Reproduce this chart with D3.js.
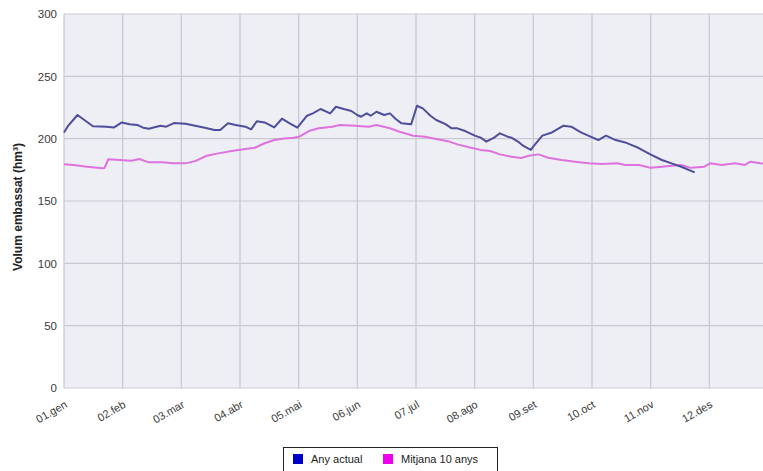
<!DOCTYPE html>
<html>
<head>
<meta charset="utf-8">
<script src="https://cdn.jsdelivr.net/npm/d3@7"></script>
<style>
  html, body { margin: 0; padding: 0; background: #ffffff; }
  svg { display: block; font-family: "Liberation Sans", Arial, sans-serif; }
</style>
</head>
<body>
<svg id="chart" width="763" height="471"></svg>
<script>
// ---------- DATA ----------
const monthLabels = ["01.gen","02.feb","03.mar","04.abr","05.mai","06.jun","07.jul","08.ago","09.set","10.oct","11.nov","12.des"];
const yTicks = [0, 50, 100, 150, 200, 250, 300];

// Any actual (day of year, hm³)
const actualDay = [0,2,7,15,22,26,30,34,38,41,44,50,53,57,63,68,73,78,81,85,89,94,97,100,104,109,113,117,121,126,129,133,138,141,145,149,152,154,157,159,162,166,169,172,175,180,183,186,190,193,198,201,204,208,213,216,219,223,226,230,232,236,238,242,244,248,253,259,263,268,273,277,281,286,291,295,298,304,310,315,320,327];
const actualVol = [205,210,219,210,209.5,209,213,211.5,211,208.8,208,210.4,209.6,212.5,212,210.4,208.8,207,207,212.3,211,209.6,207.5,214,213,209,216,212.3,208.8,218.4,220.3,223.8,220.3,225.6,223.8,222.2,219,217.6,220.3,218.4,221.6,219,220.3,215.8,212.3,211.5,226.4,224.3,218.4,215,211.5,208.3,208.3,206.1,202.4,200.8,197.6,200.8,204.3,201.6,200.8,197,194.4,191,195,202.4,205,210.4,209.6,205,201.6,198.9,202.4,198.9,197,194.4,192.5,187.4,182.9,180.2,177.5,173];

// Mitjana 10 anys (day of year, hm³)
const mitjanaDay = [0,5,12,20,21,23,29,35,39,44,51,57,63,68,74,80,87,94,99,104,109,114,119,122,127,132,139,143,151,158,162,169,174,179,181,187,193,199,204,211,216,221,226,232,237,241,246,251,258,265,272,279,287,291,298,304,310,315,320,325,332,335,341,348,353,356,361,365];
const mitjanaVol = [179.5,178.9,177.5,176.2,176.5,183.5,182.9,182.3,183.7,181,181,180.2,180.2,182,186.3,188.2,190.1,191.7,192.7,196.3,198.9,200.2,200.8,201.6,206.1,208.3,209.6,211,210.4,209.6,211,208.3,205.6,203.4,202.4,201.6,199.7,198,195.4,192.7,191,190.1,187.4,185.5,184.5,186.3,187.4,184.7,182.9,181.5,180.2,179.7,180.2,178.9,178.9,176.6,177.5,178.3,178.9,176.6,177.5,180.2,178.9,180.2,178.9,181.5,180.2,180];

const legendNames = ["Any actual", "Mitjana 10 anys"];

// ---------- LAYOUT ----------
const svg = d3.select("#chart");
const mLeft = 64, mRight = 768, mTop = 14, mBottom = 388;
const monthLen = 365 / 12;

const x = d3.scaleLinear().domain([0, 365]).range([mLeft, mRight]);
const y = d3.scaleLinear().domain([0, 300]).range([mBottom, mTop]);

// plot background
svg.append("rect")
  .attr("x", mLeft).attr("y", mTop)
  .attr("width", mRight - mLeft).attr("height", mBottom - mTop)
  .attr("fill", "#eeeef5");

const monthTicks = monthLabels.map((d, i) => i * monthLen);

// grid
const grid = svg.append("g");
grid.selectAll("line.h").data(yTicks).join("line")
  .attr("x1", mLeft).attr("x2", mRight)
  .attr("y1", d => y(d)).attr("y2", d => y(d))
  .attr("stroke", "#c9c9d3").attr("stroke-width", 1.2);
grid.selectAll("line.v").data(monthTicks).join("line")
  .attr("y1", mTop).attr("y2", mBottom)
  .attr("x1", d => x(d)).attr("x2", d => x(d))
  .attr("stroke", "#c6c6d6").attr("stroke-width", 1.2);

// y axis labels
const yAxis = d3.axisLeft(y).tickValues(yTicks).tickSize(0).tickPadding(7);
svg.append("g").attr("transform", `translate(${mLeft},0)`).call(yAxis)
  .call(g => g.select(".domain").remove())
  .call(g => g.selectAll("text").attr("font-size", 11.5).attr("fill", "#3a3a3a").attr("font-family", "Liberation Sans, Arial, sans-serif"));

// x axis labels
const xAxis = d3.axisBottom(x).tickValues(monthTicks).tickSize(0).tickFormat((d, i) => monthLabels[i]);
svg.append("g").attr("transform", `translate(0,${mBottom})`).call(xAxis)
  .call(g => g.select(".domain").remove())
  .call(g => g.selectAll("text")
    .attr("font-size", 11).attr("fill", "#3a3a3a")
    .attr("font-family", "Liberation Sans, Arial, sans-serif")
    .attr("text-anchor", "end")
    .attr("dy", 0)
    .attr("transform", "translate(2,16) rotate(-30)"));

// y axis title
svg.append("text")
  .attr("transform", `translate(22,${(mTop + mBottom) / 2 + 6}) rotate(-90)`)
  .attr("text-anchor", "middle")
  .attr("font-size", 12).attr("font-weight", "bold").attr("fill", "#222")
  .text("Volum embassat (hm³)");

// lines
const line = d3.line().x(d => x(d[0])).y(d => y(d[1]));
const mitjana = mitjanaDay.map((d, i) => [d, mitjanaVol[i]]);
const actual = actualDay.map((d, i) => [d, actualVol[i]]);

svg.append("path").datum(mitjana)
  .attr("d", line).attr("fill", "none")
  .attr("stroke", "#de72de").attr("stroke-width", 2).attr("stroke-linejoin", "round");
svg.append("path").datum(actual)
  .attr("d", line).attr("fill", "none")
  .attr("stroke", "#4e4e9c").attr("stroke-width", 2).attr("stroke-linejoin", "round");

// legend
const lg = svg.append("g");
lg.append("rect").attr("x", 283.5).attr("y", 447.5).attr("width", 214).attr("height", 24)
  .attr("fill", "#fff").attr("stroke", "#222").attr("stroke-width", 1);
const legendColors = ["#0000cc", "#ee00ee"];
const legendX = [293, 383];
legendNames.forEach((n, i) => {
  lg.append("rect").attr("x", legendX[i]).attr("y", 454).attr("width", 10).attr("height", 10)
    .attr("fill", legendColors[i]);
  lg.append("text").attr("x", legendX[i] + 18).attr("y", 463)
    .attr("font-size", 11).attr("fill", "#222").text(n);
});
</script>
</body>
</html>
